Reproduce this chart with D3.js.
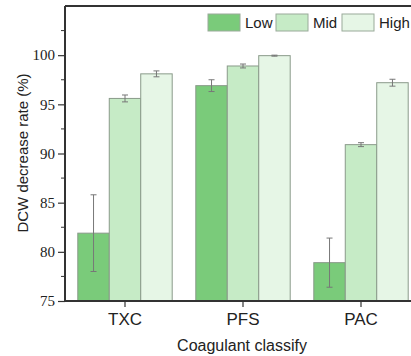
<!DOCTYPE html>
<html><head><meta charset="utf-8">
<script src="https://cdn.jsdelivr.net/npm/d3@7"></script>
<style>body{margin:0;background:#fff;}svg{display:block;}</style>
</head><body>
<script>
const categories = ["TXC", "PFS", "PAC"];
const series = ["Low", "Mid", "High"];
const lowValues = [81.9, 96.9, 78.9];
const lowErr = [3.9, 0.6, 2.5];
const midValues = [95.6, 98.9, 90.9];
const midErr = [0.35, 0.2, 0.2];
const highValues = [98.1, 99.95, 97.2];
const highErr = [0.3, 0.05, 0.35];
const yTicks = [75, 80, 85, 90, 95, 100];
const colors = ["#7acb7a", "#c6ebc6", "#e6f6e6"];

const W = 411, H = 356;
const m = {left: 65, top: 6, bottom: 301, right: 420};
const svg = d3.select("body").append("svg").attr("width", W).attr("height", H);

const x = d3.scaleBand().domain(categories).range([m.left + 1, m.right]).paddingInner(0.2).paddingOuter(0.1);
const xs = d3.scaleBand().domain(series).range([0, x.bandwidth()]);
const y = d3.scaleLinear().domain([75, 105]).range([m.bottom, m.top]);

const vals = [lowValues, midValues, highValues];
const errs = [lowErr, midErr, highErr];
const data = [];
series.forEach((s, si) => categories.forEach((c, ci) => data.push({s, si, c, v: vals[si][ci], e: errs[si][ci]})));

svg.selectAll("rect.bar").data(data).join("rect").attr("class", "bar")
  .attr("x", d => x(d.c) + xs(d.s)).attr("width", xs.bandwidth())
  .attr("y", d => y(d.v)).attr("height", d => y(75) - y(d.v))
  .attr("fill", d => colors[d.si]).attr("stroke", "#8a9a8a").attr("stroke-width", 1);

const eb = svg.selectAll("g.err").data(data).join("g").attr("class", "err")
  .attr("stroke", "#777").attr("stroke-width", 1);
eb.append("line").attr("x1", d => x(d.c) + xs(d.s) + xs.bandwidth()/2).attr("x2", d => x(d.c) + xs(d.s) + xs.bandwidth()/2)
  .attr("y1", d => y(d.v - d.e)).attr("y2", d => y(d.v + d.e));
[-1, 1].forEach(sg => {
  eb.append("line").attr("x1", d => x(d.c) + xs(d.s) + xs.bandwidth()/2 - 3).attr("x2", d => x(d.c) + xs(d.s) + xs.bandwidth()/2 + 3)
    .attr("y1", d => y(d.v + sg*d.e)).attr("y2", d => y(d.v + sg*d.e));
});

// frame
svg.append("line").attr("x1", m.left).attr("x2", W+10).attr("y1", m.top).attr("y2", m.top).attr("stroke", "#333").attr("stroke-width", 2);

// y axis
const ya = svg.append("g").attr("transform", `translate(${m.left},0)`)
  .call(d3.axisLeft(y).tickValues(yTicks).tickSize(7).tickFormat(d3.format("d")));
ya.select(".domain").attr("stroke", "#333").attr("stroke-width", 2).attr("d", `M0,${m.top}V${m.bottom}`);
ya.selectAll(".tick line").attr("stroke", "#333").attr("stroke-width", 1.2);
ya.selectAll(".tick text").attr("font-family", "Liberation Serif, serif").attr("font-size", 15).attr("fill", "#222").attr("x", -10);
const minor = d3.range(77.5, 105, 5);
svg.selectAll("line.minor").data(minor).join("line").attr("class", "minor")
  .attr("x1", m.left - 4).attr("x2", m.left).attr("y1", d => y(d)).attr("y2", d => y(d))
  .attr("stroke", "#333").attr("stroke-width", 1);

// x axis
const xa = svg.append("g").attr("transform", `translate(0,${m.bottom})`)
  .call(d3.axisBottom(x).tickSize(6));
xa.select(".domain").attr("stroke", "#333").attr("stroke-width", 2).attr("d", `M${m.left},0H${W+10}`);
xa.selectAll(".tick line").attr("stroke", "#333").attr("stroke-width", 1.2);
xa.selectAll(".tick text").attr("font-family", "Liberation Sans, Arial, sans-serif").attr("font-size", 17).attr("fill", "#222").attr("y", 12).attr("dy", "0.71em");

// titles
svg.append("text").attr("x", 242).attr("y", 351).attr("text-anchor", "middle")
  .attr("font-family", "Liberation Sans, Arial, sans-serif").attr("font-size", 16).attr("fill", "#222").text("Coagulant classify");
svg.append("text").attr("transform", `translate(28,153) rotate(-90)`).attr("text-anchor", "middle")
  .attr("font-family", "Liberation Sans, Arial, sans-serif").attr("font-size", 15).attr("fill", "#222").text("DCW decrease rate (%)");

// legend
const legX = [208, 276, 342];
const lg = svg.selectAll("g.leg").data(series).join("g").attr("class", "leg")
  .attr("transform", (d, i) => `translate(${legX[i]},14)`);
lg.append("rect").attr("width", 32).attr("height", 17).attr("fill", (d, i) => colors[i]).attr("stroke", "#9aaa9a");
lg.append("text").attr("x", 37).attr("y", 14).attr("font-family", "Liberation Sans, Arial, sans-serif")
  .attr("font-size", 15).attr("fill", "#222").text(d => d);
</script>
</body></html>
